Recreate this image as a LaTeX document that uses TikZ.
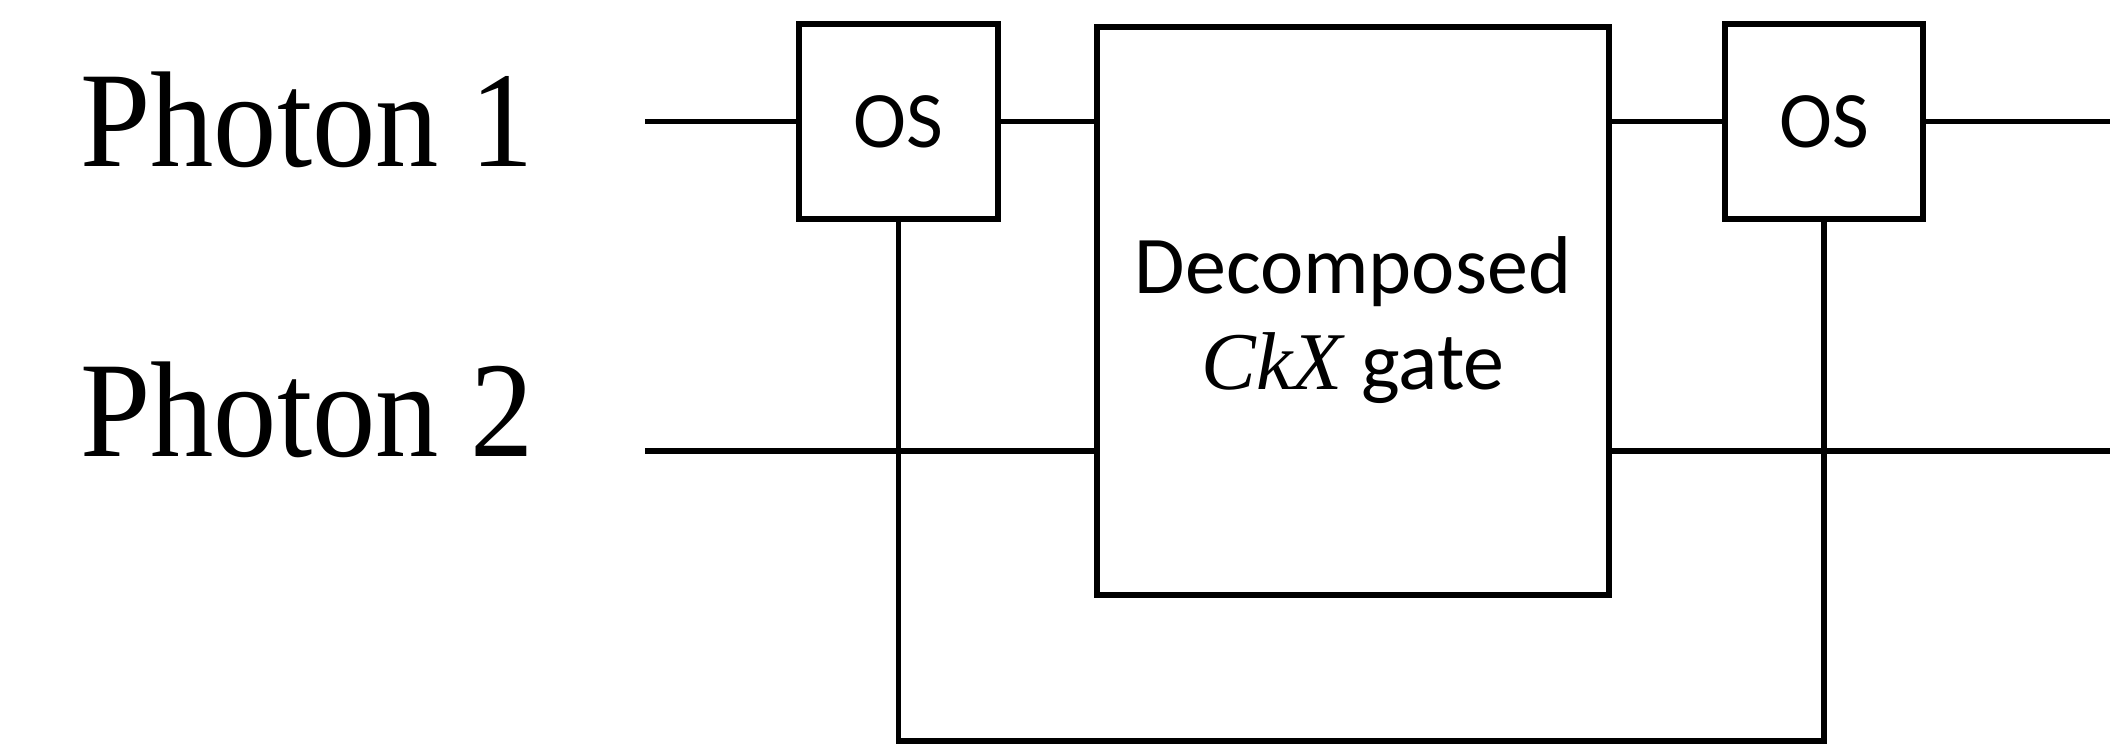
\documentclass[tikz,border=0pt]{standalone}
\usepackage{graphicx}
\usepackage{fontspec}
\setmainfont{Liberation Serif}
\newfontfamily\calibrifont{Carlito}
\newfontfamily\mathitfont{Liberation Serif}
\begin{document}
\begin{tikzpicture}[x=0.5pt,y=-0.5pt,
  wire/.style={line width=2.6pt},
  gatebox/.style={draw,line width=3pt,rectangle,inner sep=0pt,font=\calibrifont\fontsize{40}{49}\selectfont,align=center},
  gatetext/.style={inner sep=0pt,font=\calibrifont\fontsize{41}{49}\selectfont,align=center},
  photonlabel/.style={inner sep=0pt,anchor=base west,font=\fontsize{62}{70}\selectfont}]
\useasboundingbox (0,0) rectangle (2117,747);
\node[photonlabel] (p1) at (80,167) {\scalebox{1.02}[1.1]{Photon 1}};
\node[photonlabel] (p2) at (80,457) {\scalebox{1.02}[1.1]{Photon 2}};
\node[gatebox,minimum width=99.5pt,minimum height=97.5pt] (os1) at (898.5,121.5) {OS};
\node[gatebox,minimum width=256pt,minimum height=284pt] (big) at (1353,311) {};
\node[gatetext] (bigtext) at (1353,320) {Decomposed\\[-1pt]{\mathitfont\itshape CkX} gate};
\node[gatebox,minimum width=99pt,minimum height=97.5pt] (os2) at (1824,121.5) {OS};
\coordinate (w1s) at (645,121.5);
\coordinate (w1e) at (2110,121.5);
\coordinate (w2s) at (645,451);
\coordinate (w2e) at (2110,451);
\coordinate (bot) at (1353,741);
\draw[wire] (w1s) -- (os1.west);
\draw[wire] (os1.east) -- (os1.east -| big.west);
\draw[wire] (os2.west -| big.east) -- (os2.west);
\draw[wire] (os2.east) -- (w1e);
\draw[wire] (w2s) -- (w2s -| big.west);
\draw[wire] (w2s -| big.east) -- (w2e);
\draw[wire] (os1.south) -- (os1.south |- bot) -- (os2.south |- bot) -- (os2.south);
\end{tikzpicture}
\end{document}
